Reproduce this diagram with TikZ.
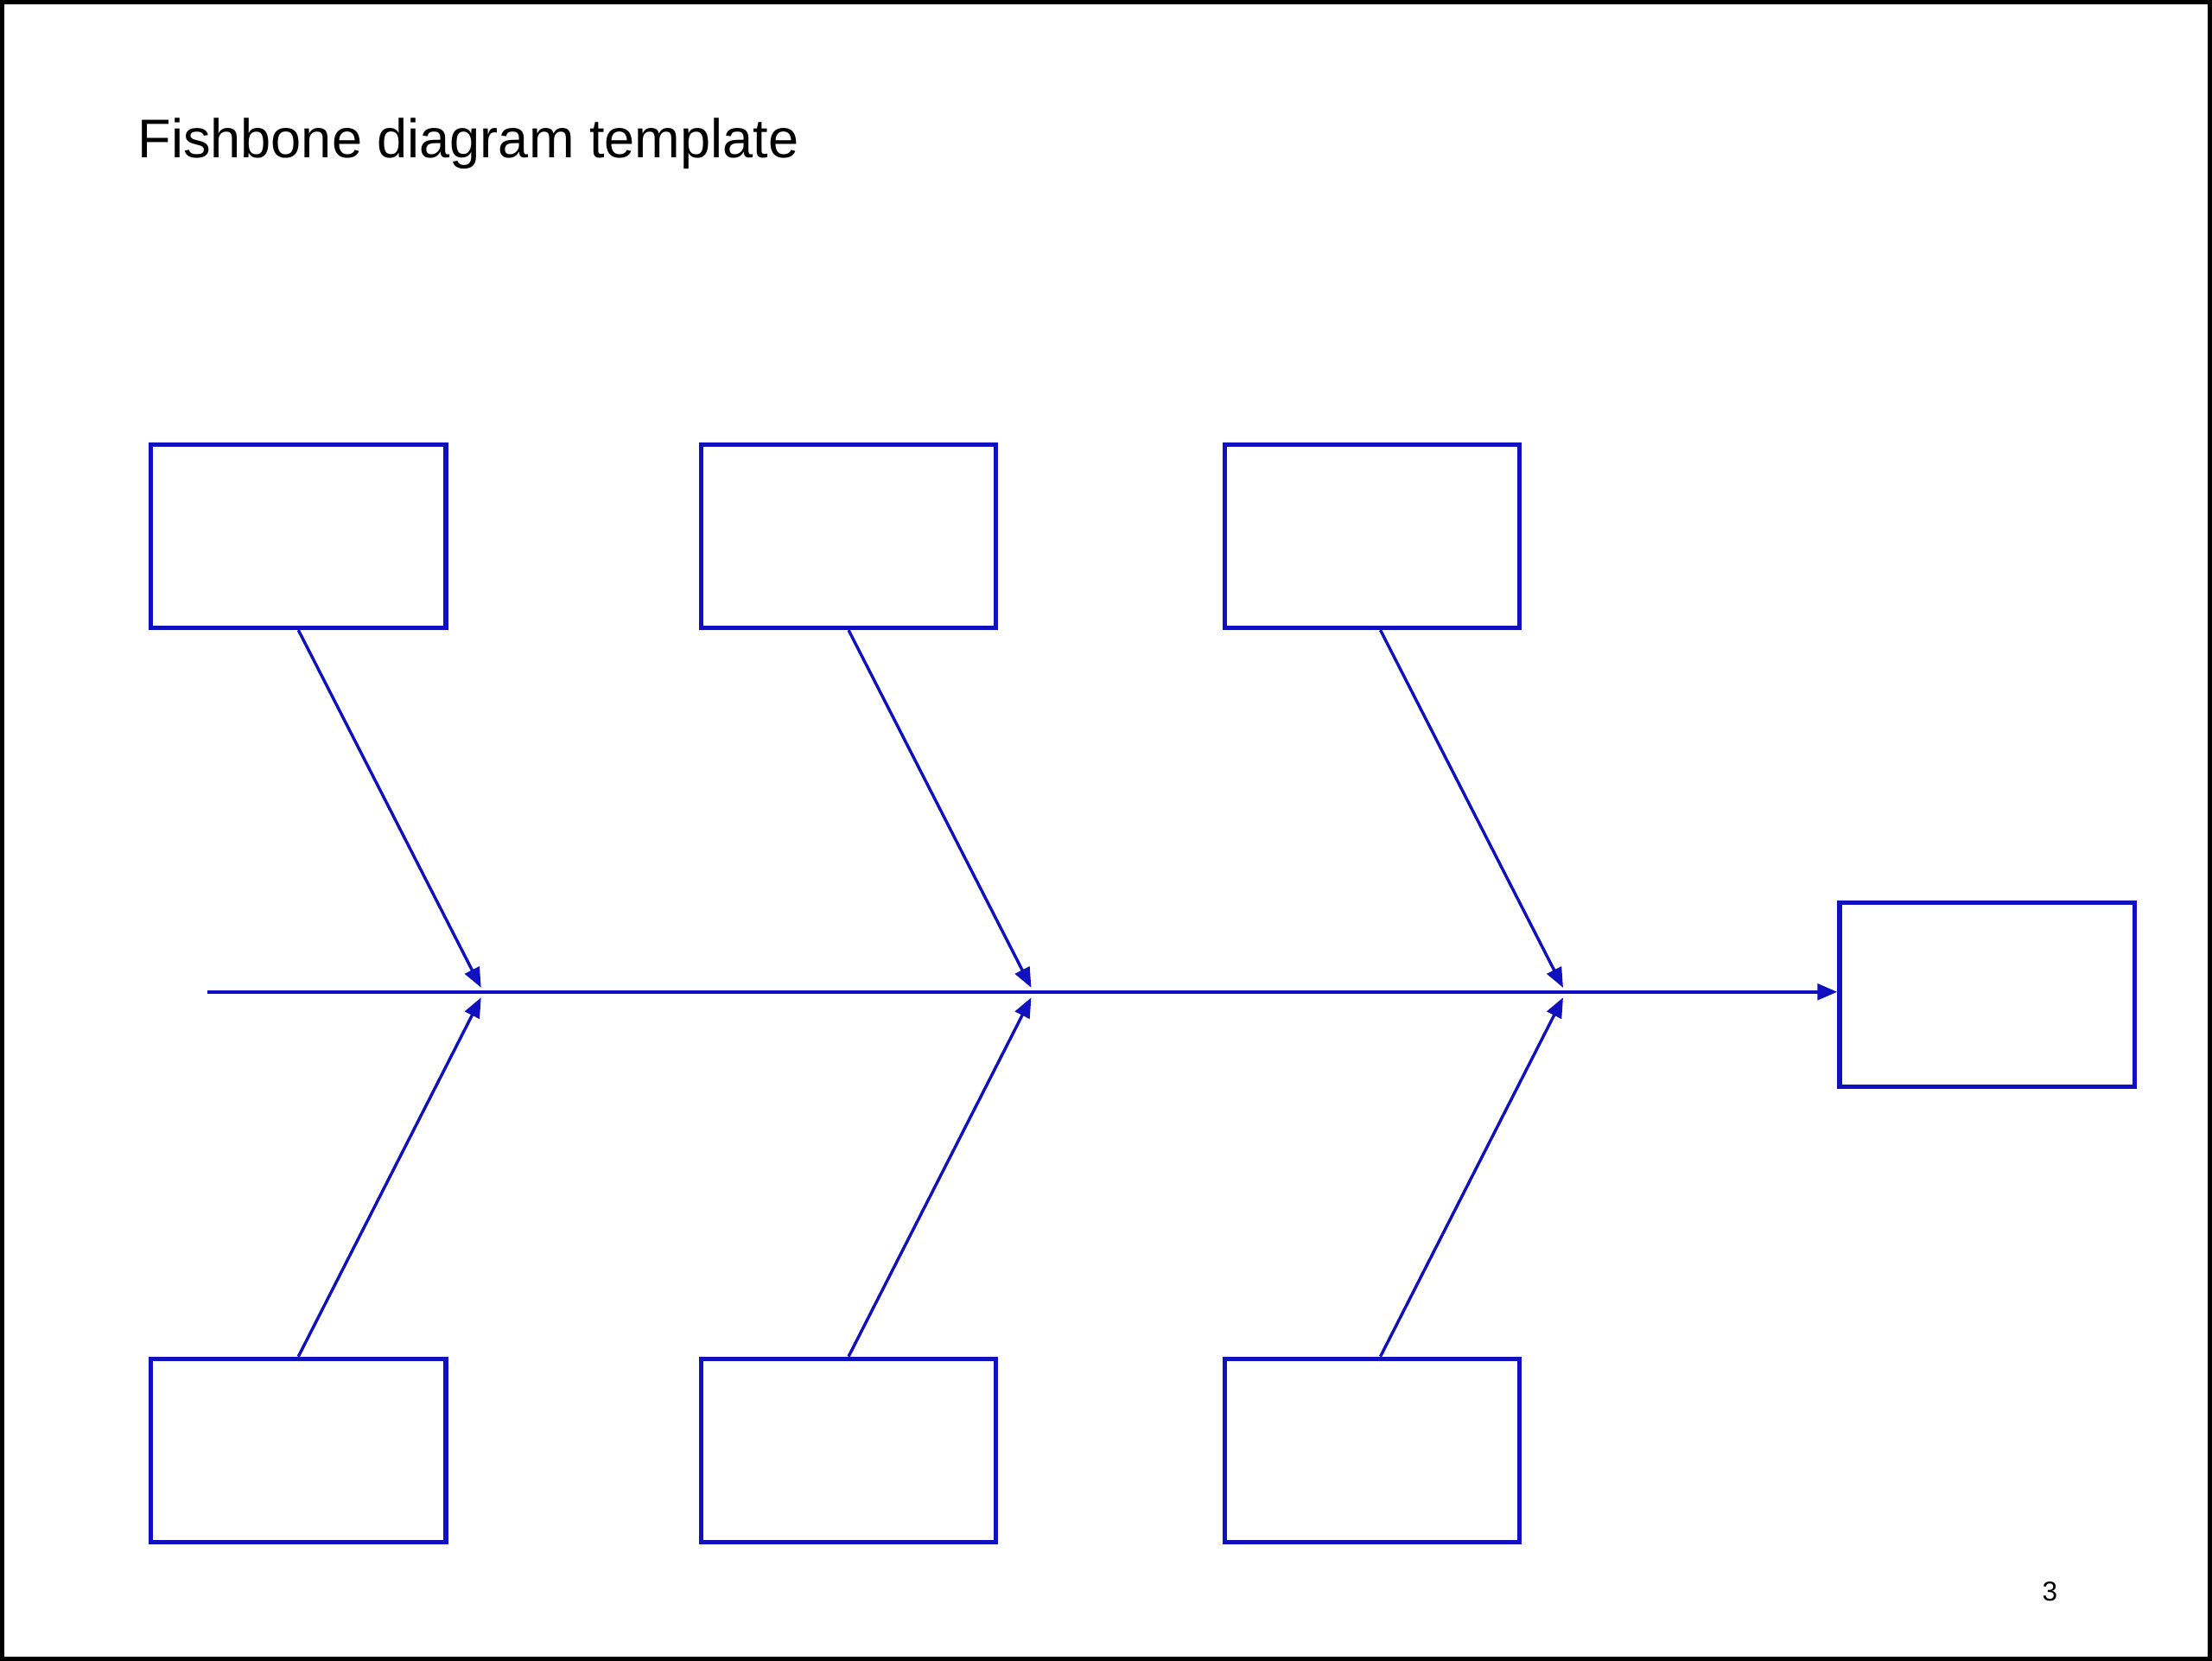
\documentclass[tikz,border=0pt]{standalone}
\usepackage{fontspec}
\setmainfont{Liberation Sans}
\usetikzlibrary{positioning,arrows.meta}
\definecolor{bonecol}{RGB}{16,16,190}
\tikzset{
  causebox/.style={draw=bonecol,line width=0.9pt,minimum width=2.09cm,minimum height=1.3cm,inner sep=0pt},
  bone/.style={draw=bonecol,line width=0.6pt,-{Triangle[length=4pt,width=3.2pt]}}
}
\begin{document}
\begin{tikzpicture}
	\useasboundingbox (0,0) rectangle (15.68,11.77);
	\draw[line width=0.9pt] (0.015,0.015) rectangle (15.665,11.755);
	
	\node[anchor=base west,font=\fontsize{11}{13}\selectfont,inner sep=0pt] (title) at (0.97,10.65) {Fishbone diagram template};
	\node[font=\fontsize{5.5}{7}\selectfont] (page) at (14.53,0.49) {3};
	
	% cause boxes
	\node[causebox] (top1) at (2.115,7.97) {};
	\node[causebox] (top2) at (6.015,7.97) {};
	\node[causebox] (top3) at (9.725,7.97) {};
	\node[causebox] (bot1) at (2.115,1.49) {};
	\node[causebox] (bot2) at (6.015,1.49) {};
	\node[causebox] (bot3) at (9.725,1.49) {};
	% effect box
	\node[causebox] (effect) at (14.085,4.72) {};
	
	% spine
	\coordinate (tail) at (1.47,4.74);
	\draw[bone,line width=0.7pt] (tail) -- (tail -| effect.west);
	
	% bones
	\coordinate (ta) at (3.41,4.77);
	\coordinate (tb) at (7.31,4.77);
	\coordinate (tc) at (11.08,4.77);
	\coordinate (ba) at (3.41,4.70);
	\coordinate (bb) at (7.31,4.70);
	\coordinate (bc) at (11.08,4.70);
	\draw[bone] (top1.south) -- (ta);
	\draw[bone] (top2.south) -- (tb);
	\draw[bone] ([xshift=0.06cm]top3.south) -- (tc);
	\draw[bone] (bot1.north) -- (ba);
	\draw[bone] (bot2.north) -- (bb);
	\draw[bone] ([xshift=0.06cm]bot3.north) -- (bc);
\end{tikzpicture}
\end{document}
